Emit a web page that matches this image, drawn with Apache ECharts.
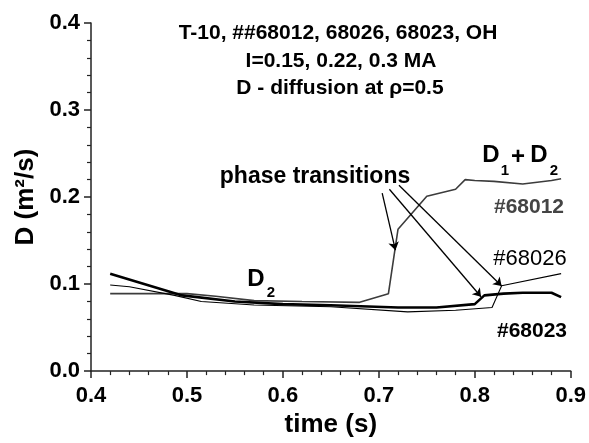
<!DOCTYPE html>
<html>
<head>
<meta charset="utf-8">
<script src="https://cdn.jsdelivr.net/npm/echarts@6/dist/echarts.min.js"></script>
<style>
html,body{margin:0;padding:0;background:#fff;}
#c{width:589px;height:443px;}
</style>
</head>
<body>
<div id="c"></div>
<script>
// ---- data ----
var t68012 = [0.42, 0.50, 0.53, 0.57, 0.62, 0.68, 0.71, 0.717, 0.72, 0.75, 0.78, 0.79, 0.80, 0.82, 0.85, 0.88, 0.89];
var d68012 = [0.089, 0.089, 0.086, 0.081, 0.080, 0.079, 0.089, 0.141, 0.163, 0.201, 0.209, 0.220, 0.219, 0.218, 0.215, 0.219, 0.221];

var t68026 = [0.42, 0.44, 0.487, 0.515, 0.57, 0.65, 0.73, 0.78, 0.818, 0.828, 0.89];
var d68026 = [0.099, 0.097, 0.087, 0.080, 0.076, 0.074, 0.068, 0.070, 0.073, 0.098, 0.112];

var t68023 = [0.42, 0.495, 0.55, 0.60, 0.65, 0.72, 0.76, 0.80, 0.81, 0.83, 0.85, 0.88, 0.89];
var d68023 = [0.112, 0.087, 0.080, 0.077, 0.0756, 0.073, 0.073, 0.077, 0.087, 0.089, 0.090, 0.090, 0.085];

// arrows: [start time, start D, end time, end D]
var arrowStartT = [0.7035, 0.711, 0.721];
var arrowStartD = [0.2045, 0.209, 0.2135];
var arrowEndT = [0.7173, 0.8065, 0.828];
var arrowEndD = [0.139, 0.0854, 0.0978];

var xTicks = [0.4, 0.5, 0.6, 0.7, 0.8, 0.9];
var yTicks = [0.0, 0.1, 0.2, 0.3, 0.4];

function pairs(t, d) { return t.map(function (v, i) { return [v, d[i]]; }); }

var FONT = '"Liberation Sans", Arial, Helvetica, sans-serif';

var arrowData = arrowStartT.map(function (v, i) {
  return [{ coord: [v, arrowStartD[i]] }, { coord: [arrowEndT[i], arrowEndD[i]] }];
});

function txt(x, y, s, size, weight, color, align) {
  return {
    type: 'text', x: x, y: y, silent: true,
    style: {
      text: s, fontFamily: FONT, fontSize: size, fontWeight: weight || 'bold',
      fill: color || '#000', align: align || 'center', verticalAlign: 'middle'
    }
  };
}

var chart = echarts.init(document.getElementById('c'), null, { renderer: 'canvas' });
chart.setOption({
  backgroundColor: '#fff',
  animation: false,
  grid: { left: 91, right: 17, top: 23, bottom: 64, containLabel: false },
  xAxis: {
    type: 'value', min: xTicks[0], max: xTicks[xTicks.length - 1], interval: 0.1,
    name: 'time (s)', nameLocation: 'middle', nameGap: 36,
    nameTextStyle: { fontFamily: FONT, fontSize: 26, fontWeight: 'bold', color: '#000' },
    axisLine: { lineStyle: { color: '#222', width: 1.5 } },
    axisTick: { show: true, inside: false, length: 7, lineStyle: { color: '#222', width: 1.5 } },
    minorTick: { show: true, splitNumber: 5, length: 4, lineStyle: { color: '#222', width: 1.2 } },
    splitLine: { show: false },
    axisLabel: { margin: 14, fontFamily: FONT, fontSize: 22, fontWeight: 'bold', color: '#000',
      formatter: function (v) { return v.toFixed(1); } }
  },
  yAxis: {
    type: 'value', min: yTicks[0], max: yTicks[yTicks.length - 1], interval: 0.1,
    name: 'D (m\u00B2/s)', nameLocation: 'middle', nameGap: 51, nameRotate: 90,
    nameTextStyle: { fontFamily: FONT, fontSize: 26, fontWeight: 'bold', color: '#000' },
    axisLine: { show: true, lineStyle: { color: '#222', width: 1.5 } },
    axisTick: { show: true, inside: false, length: 7, lineStyle: { color: '#222', width: 1.5 } },
    minorTick: { show: true, splitNumber: 5, length: 4, lineStyle: { color: '#222', width: 1.2 } },
    splitLine: { show: false },
    axisLabel: { margin: 11, fontFamily: FONT, fontSize: 22, fontWeight: 'bold', color: '#000',
      formatter: function (v) { return v.toFixed(1); } }
  },
  series: [
    { name: '#68012', type: 'line', data: pairs(t68012, d68012), showSymbol: false, silent: true,
      lineStyle: { color: '#3c3c3c', width: 1.6 } },
    { name: '#68026', type: 'line', data: pairs(t68026, d68026), showSymbol: false, silent: true,
      lineStyle: { color: '#000', width: 1.1 } },
    { name: '#68023', type: 'line', data: pairs(t68023, d68023), showSymbol: false, silent: true,
      lineStyle: { color: '#000', width: 2.6 },
      markLine: {
        silent: true, symbol: ['none', 'arrow'], symbolSize: 8, precision: 4,
        label: { show: false },
        lineStyle: { color: '#000', width: 1.3, type: 'solid' },
        emphasis: { disabled: true },
        data: arrowData
      }
    }
  ],
  graphic: [
    txt(338, 33, 'T-10, ##68012, 68026, 68023, OH', 21),
    txt(341, 61, 'I=0.15, 0.22, 0.3 MA', 21),
    txt(340, 88, 'D - diffusion at \u03C1=0.5', 21),
    txt(315, 177, 'phase transitions', 23),
    txt(491, 155, 'D', 24),
    txt(505, 171, '1', 15),
    txt(518, 157, '+', 24),
    txt(539, 155, 'D', 24),
    txt(554, 171, '2', 15),
    txt(256, 279, 'D', 24),
    txt(271, 293, '2', 15),
    txt(529, 207, '#68012', 21, 'bold', '#444'),
    txt(530, 259, '#68026', 22, 'normal', '#000'),
    txt(532, 331, '#68023', 21, 'bold', '#000')
  ]
});
</script>
</body>
</html>
